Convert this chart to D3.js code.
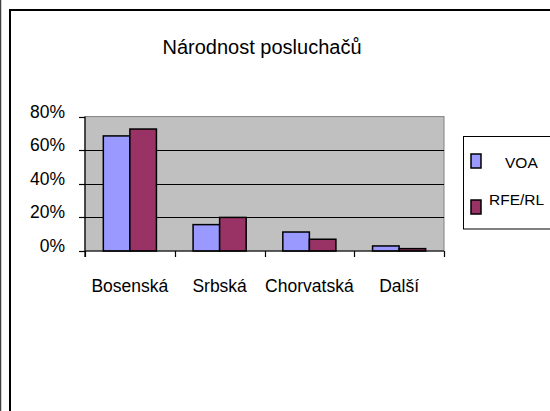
<!DOCTYPE html>
<html>
<head>
<meta charset="utf-8">
<script src="https://cdn.jsdelivr.net/npm/d3@7"></script>
<style>
  html, body { margin: 0; padding: 0; background: #fff; }
  svg { display: block; font-family: "Liberation Sans", Arial, sans-serif; }
</style>
</head>
<body>
<svg id="chart" width="550" height="411"></svg>
<script>
const title = "Národnost posluchačů";
const categories = ["Bosenská", "Srbská", "Chorvatská", "Další"];
const seriesNames = ["VOA", "RFE/RL"];
const voaValues = [0.685, 0.157, 0.113, 0.03];
const rfeValues = [0.726, 0.20, 0.07, 0.014];
const yTicks = [0, 0.2, 0.4, 0.6, 0.8];
const colors = ["#9999FF", "#993366"];

const svg = d3.select("#chart");

// outer frame
svg.append("line").attr("x1", 0.5).attr("x2", 0.5).attr("y1", 0).attr("y2", 411)
  .attr("stroke", "#404040").attr("stroke-width", 1.5);
svg.append("rect").attr("x", 10).attr("y", 10).attr("width", 560).attr("height", 420)
  .attr("fill", "#fff").attr("stroke", "#000").attr("stroke-width", 2);

// title
svg.append("text").attr("x", 262).attr("y", 54).attr("text-anchor", "middle")
  .attr("font-size", 20).attr("fill", "#000").text(title);

const plot = { left: 85, right: 444, top: 116.6, bottom: 251 };

const x0 = d3.scaleBand().domain(categories).range([plot.left, plot.right]).padding(0);
const x1 = d3.scaleBand().domain(seriesNames).range([0, x0.bandwidth()]).paddingInner(0).paddingOuter(0.69);
const y = d3.scaleLinear().domain([0, 0.8]).range([plot.bottom, plot.top]);

// plot area
svg.append("rect").attr("x", plot.left).attr("y", plot.top)
  .attr("width", plot.right - plot.left).attr("height", plot.bottom - plot.top)
  .attr("fill", "#C0C0C0").attr("stroke", "#808080").attr("stroke-width", 1);

// gridlines
svg.append("g").selectAll("line").data(yTicks.filter(d => d > 0 && d < 0.8)).join("line")
  .attr("x1", plot.left).attr("x2", plot.right)
  .attr("y1", d => Math.round(y(d)) + 0.5).attr("y2", d => Math.round(y(d)) + 0.5)
  .attr("stroke", "#000").attr("stroke-width", 1);

// bars
const series = [voaValues, rfeValues];
const groups = svg.append("g").selectAll("g").data(categories).join("g")
  .attr("transform", d => `translate(${x0(d)},0)`);
groups.selectAll("rect").data((c, i) => seriesNames.map((s, j) => ({ s, j, v: series[j][i] })))
  .join("rect")
  .attr("x", d => x1(d.s)).attr("width", x1.bandwidth())
  .attr("y", d => y(d.v)).attr("height", d => y(0) - y(d.v))
  .attr("fill", d => colors[d.j]).attr("stroke", "#000").attr("stroke-width", 1.5);

// y axis
const yAxis = svg.append("g").attr("transform", `translate(${plot.left},0)`);
yAxis.append("line").attr("x1", 0).attr("x2", 0).attr("y1", plot.top).attr("y2", plot.bottom + 6)
  .attr("stroke", "#000").attr("stroke-width", 1.2);
yAxis.selectAll("line.tick").data(yTicks).join("line").attr("class", "tick")
  .attr("x1", -6).attr("x2", 0).attr("y1", d => Math.round(y(d)) + 0.5).attr("y2", d => Math.round(y(d)) + 0.5)
  .attr("stroke", "#000").attr("stroke-width", 1.2);
yAxis.selectAll("text").data(yTicks).join("text")
  .attr("x", -20).attr("y", d => y(d) + 1).attr("text-anchor", "end")
  .attr("font-size", 17.5).attr("fill", "#000").text(d3.format(".0%"));

// x axis
const xAxis = svg.append("g");
xAxis.append("line").attr("x1", plot.left).attr("x2", plot.right).attr("y1", plot.bottom).attr("y2", plot.bottom)
  .attr("stroke", "#000").attr("stroke-width", 1.2);
const boundaries = categories.map(c => x0(c)).concat([x0(categories[categories.length - 1]) + x0.bandwidth()]);
xAxis.selectAll("line.tick").data(boundaries).join("line").attr("class", "tick")
  .attr("x1", d => Math.round(d) + 0.5).attr("x2", d => Math.round(d) + 0.5)
  .attr("y1", plot.bottom).attr("y2", plot.bottom + 6)
  .attr("stroke", "#000").attr("stroke-width", 1.2);
xAxis.selectAll("text").data(categories).join("text")
  .attr("x", d => x0(d) + x0.bandwidth() / 2).attr("y", 292)
  .attr("text-anchor", "middle").attr("font-size", 17.5).attr("fill", "#000").text(d => d);

// legend
const legend = svg.append("g");
legend.append("rect").attr("x", 463.5).attr("y", 136.5).attr("width", 100).attr("height", 92.5)
  .attr("fill", "#fff").attr("stroke", "#000").attr("stroke-width", 1);
const legendRows = [
  { sw: 154, tx: 505, ty: 168 },
  { sw: 200, tx: 489, ty: 205 }
];
legend.selectAll("rect.sw").data(seriesNames).join("rect").attr("class", "sw")
  .attr("x", 471).attr("y", (d, i) => legendRows[i].sw).attr("width", 10).attr("height", 14)
  .attr("fill", (d, i) => colors[i]).attr("stroke", "#000").attr("stroke-width", 1.5);
legend.selectAll("text").data(seriesNames).join("text")
  .attr("x", (d, i) => legendRows[i].tx).attr("y", (d, i) => legendRows[i].ty)
  .attr("font-size", 15.5).attr("fill", "#000").text(d => d);
</script>
</body>
</html>
